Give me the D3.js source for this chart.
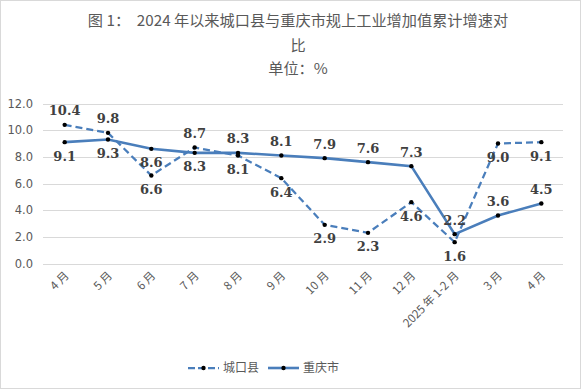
<!DOCTYPE html>
<html>
<head>
<meta charset="utf-8">
<script src="https://cdn.jsdelivr.net/npm/d3@7"></script>
<style>
  body { margin: 0; background: #fff; }
  svg { display: block; }
</style>
</head>
<body>
<svg width="581" height="389"></svg>
<script>
const months = ["4 月", "5 月", "6 月", "7 月", "8 月", "9 月", "10 月", "11 月", "12 月", "2025 年 1-2 月", "3 月", "4 月"];
const chengkou = [10.4, 9.8, 6.6, 8.7, 8.1, 6.4, 2.9, 2.3, 4.6, 1.6, 9.0, 9.1];
const chongqing = [9.1, 9.3, 8.6, 8.3, 8.3, 8.1, 7.9, 7.6, 7.3, 2.2, 3.6, 4.5];
// where each data label sits: 1 above the point, -1 below
const chengkouLabelSide = [1, 1, -1, 1, -1, -1, -1, -1, -1, -1, -1, -1];
const chongqingLabelSide = [-1, -1, -1, -1, 1, 1, 1, 1, 1, 1, 1, 1];
const yTicks = [0, 2, 4, 6, 8, 10, 12];

const blue = "#4a7ebb";
const svg = d3.select("svg");

svg.append("rect")
  .attr("x", 0.5).attr("y", 0.5)
  .attr("width", 580).attr("height", 388)
  .attr("fill", "#fff")
  .attr("stroke", "#d9d9d9");

const margin = {left: 43, right: 18, top: 103.5, bottom: 125.5};
const x = d3.scalePoint()
  .domain(d3.range(months.length))
  .range([margin.left, 581 - margin.right])
  .padding(0.5);
const y = d3.scaleLinear()
  .domain([0, 12])
  .range([389 - margin.bottom, margin.top]);

// title
const title = svg.append("g")
  .attr("fill", "#595959")
  .attr("font-family", "Noto Sans CJK SC")
  .attr("font-size", 15.2)
  .attr("text-anchor", "middle");
title.append("text").attr("x", 298).attr("y", 26).attr("xml:space", "preserve")
  .text("图 1：  2024 年以来城口县与重庆市规上工业增加值累计增速对");
title.append("text").attr("x", 298).attr("y", 51).text("比");
title.append("text").attr("x", 298).attr("y", 74).text("单位：%");

// gridlines
svg.append("g")
  .selectAll("line")
  .data(yTicks)
  .join("line")
  .attr("x1", margin.left).attr("x2", 581 - margin.right)
  .attr("y1", d => Math.round(y(d)) + 0.5).attr("y2", d => Math.round(y(d)) + 0.5)
  .attr("stroke", "#d9d9d9");

// y axis labels
svg.append("g")
  .selectAll("text")
  .data(yTicks)
  .join("text")
  .attr("x", 33)
  .attr("y", d => y(d))
  .attr("dy", "0.35em")
  .attr("text-anchor", "end")
  .attr("fill", "#595959")
  .attr("font-family", "DejaVu Sans")
  .attr("font-size", 11.5)
  .text(d => d.toFixed(1));

// x axis labels
svg.append("g")
  .selectAll("text")
  .data(months)
  .join("text")
  .attr("transform", (d, i) => `translate(${x(i) + 2},${y(0) + 10}) rotate(-45)`)
  .attr("text-anchor", "end")
  .attr("dy", "0.35em")
  .attr("fill", "#595959")
  .attr("font-family", "Noto Sans CJK SC")
  .attr("font-size", 11.5)
  .text(d => d);

const line = d3.line()
  .x((d, i) => x(i))
  .y(d => y(d));

svg.append("path")
  .datum(chongqing)
  .attr("d", line)
  .attr("fill", "none")
  .attr("stroke", blue)
  .attr("stroke-width", 2.6);

svg.append("path")
  .datum(chengkou)
  .attr("d", line)
  .attr("fill", "none")
  .attr("stroke", blue)
  .attr("stroke-width", 2.25)
  .attr("stroke-dasharray", "7,4");

function markersAndLabels(values, sides) {
  const g = svg.append("g");
  g.selectAll("circle")
    .data(values)
    .join("circle")
    .attr("cx", (d, i) => x(i))
    .attr("cy", d => y(d))
    .attr("r", 2.2)
    .attr("fill", "#000");
  g.selectAll("text")
    .data(values)
    .join("text")
    .attr("x", (d, i) => x(i))
    .attr("y", (d, i) => y(d) - sides[i] * 14)
    .attr("dy", "0.35em")
    .attr("text-anchor", "middle")
    .attr("fill", "#404040")
    .attr("font-family", "DejaVu Serif")
    .attr("font-size", 13)
    .attr("font-weight", "bold")
    .text(d => d.toFixed(1));
}
markersAndLabels(chengkou, chengkouLabelSide);
markersAndLabels(chongqing, chongqingLabelSide);

// legend
const legend = svg.append("g").attr("transform", "translate(0,368)");
const items = [
  {name: "城口县", dash: "7,3", width: 2.25, x0: 188},
  {name: "重庆市", dash: null, width: 2.6, x0: 268}
];
items.forEach(it => {
  legend.append("line")
    .attr("x1", it.x0).attr("x2", it.x0 + 31)
    .attr("stroke", blue)
    .attr("stroke-width", it.width)
    .attr("stroke-dasharray", it.dash);
  legend.append("circle")
    .attr("cx", it.x0 + 15.5).attr("r", 2.2).attr("fill", "#000");
  legend.append("text")
    .attr("x", it.x0 + 35)
    .attr("dy", "0.35em")
    .attr("fill", "#595959")
    .attr("font-family", "Noto Sans CJK SC")
    .attr("font-size", 12)
    .text(it.name);
});
</script>
</body>
</html>
